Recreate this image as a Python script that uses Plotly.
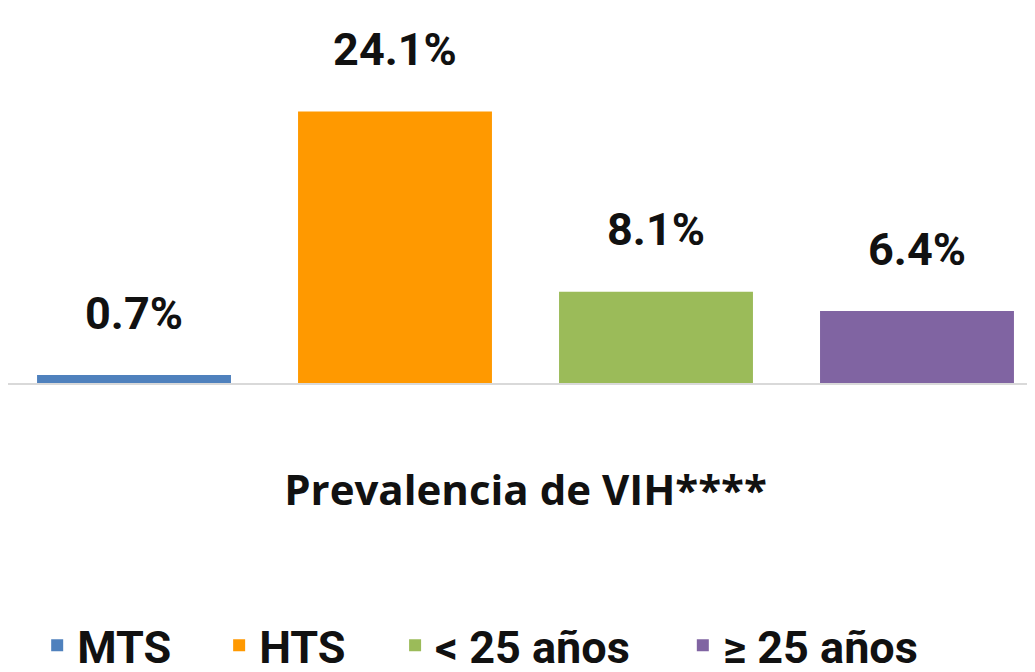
import plotly.graph_objects as go

category = ["Prevalencia de VIH****"]
series_names = ["MTS", "HTS", "< 25 años", "≥ 25 años"]
values = [0.7, 24.1, 8.1, 6.4]
colors = ["#4F81BD", "#FF9900", "#9BBB59", "#8064A2"]
legend_ids = ["legend", "legend2", "legend3", "legend4"]
legend_x = [0.0282, 0.204, 0.374, 0.652]

FONT = "Roboto, Liberation Sans Narrow, sans-serif"

fig = go.Figure()
for name, v, c, lg in zip(series_names, values, colors, legend_ids):
    fig.add_trace(go.Bar(
        x=category, y=[v], name=name, legend=lg,
        marker=dict(color=c, line=dict(width=0)),
        texttemplate="<span style='font-size:45px'><b>%{y:.1f}%</b></span><br> ",
        textposition="outside", cliponaxis=False,
        textfont=dict(family=FONT, size=28, color="#111111"),
    ))

legend_style = dict(orientation="h", xanchor="left", y=-0.70, yanchor="middle",
                    font=dict(family=FONT, size=45, color="#111111", weight="bold"),
                    bgcolor="rgba(0,0,0,0)")
layout_legends = {lg: dict(x=lx, **legend_style) for lg, lx in zip(legend_ids, legend_x)}

fig.update_layout(
    width=1035, height=672,
    margin=dict(l=0, r=0, t=0, b=297, autoexpand=False),
    paper_bgcolor="white", plot_bgcolor="white",
    barmode="group", bargap=0.0, bargroupgap=0.257,
    showlegend=True,
    xaxis=dict(showline=True, linecolor="#D9D9D9", linewidth=2, showgrid=False,
               range=[-0.4957, 0.4957],
               ticks="", ticklabelstandoff=70,
               tickfont=dict(family="Open Sans", size=42, color="#111111", weight="bold")),
    yaxis=dict(range=[0, 33.3], visible=False, showgrid=False),
    **layout_legends,
)
fig.write_html("out.html")
